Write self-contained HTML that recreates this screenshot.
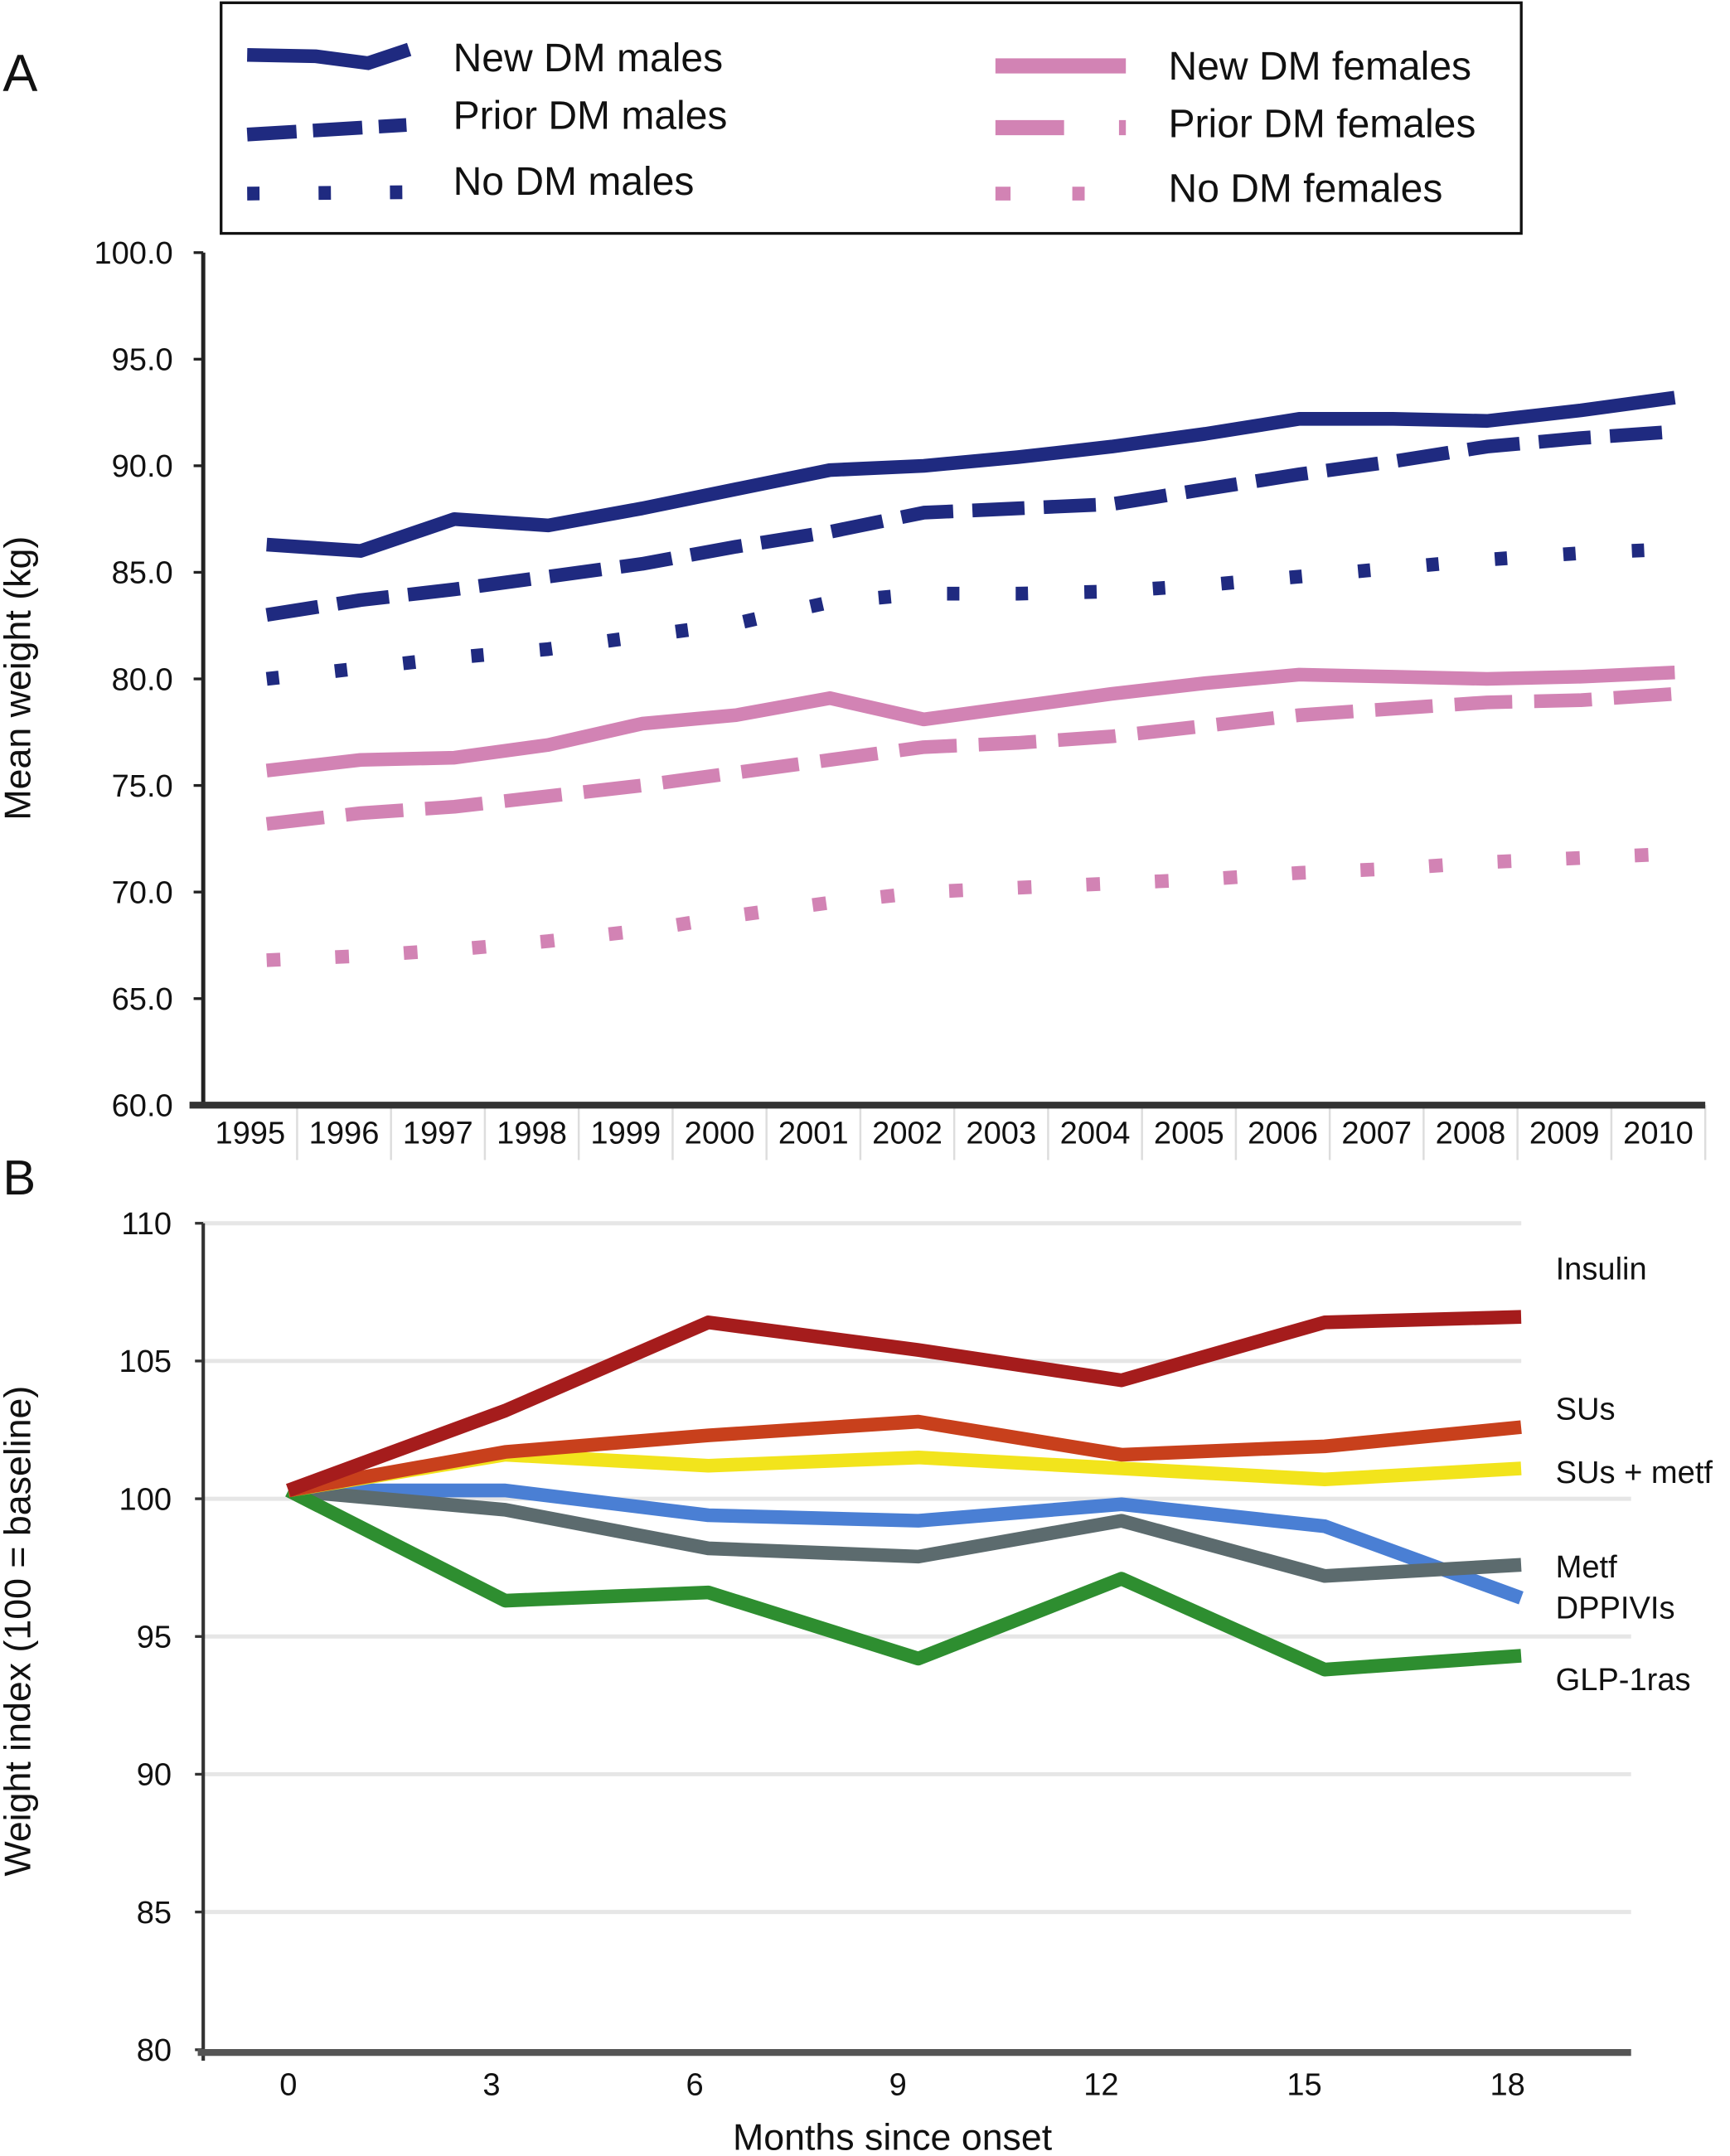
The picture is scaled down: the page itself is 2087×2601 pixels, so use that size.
<!DOCTYPE html>
<html><head><meta charset="utf-8">
<style>
html,body{margin:0;padding:0;background:#fff;}
svg{display:block;}
text{font-family:"Liberation Sans Narrow","Liberation Sans",sans-serif;fill:#111;}
.reg{font-family:"Liberation Sans",sans-serif;}
</style></head>
<body>
<svg id="fig" width="2087" height="2601" viewBox="0 0 1260 1570.4" xmlns="http://www.w3.org/2000/svg">
  <text x="2" y="66" font-size="38" class="reg">A</text>
  <text x="2" y="870" font-size="36" class="reg">B</text>
  <g id="legend">
    <rect x="161" y="2" width="947" height="168" fill="none" stroke="#111" stroke-width="2"/>
    <path d="M180 40 L230 41 L268 46 L298 36" fill="none" stroke="#1f2a80" stroke-width="10"/>
    <text x="330" y="52" font-size="29">New DM males</text>
    <path d="M180 98 L296 91" fill="none" stroke="#1f2a80" stroke-width="10" stroke-dasharray="36 12"/>
    <text x="330" y="94" font-size="29">Prior DM males</text>
    <path d="M180 141 L296 140" fill="none" stroke="#1f2a80" stroke-width="10" stroke-dasharray="9 43"/>
    <text x="330" y="142" font-size="29">No DM males</text>
    <path d="M725 48 L820 48" fill="none" stroke="#d283b4" stroke-width="11"/>
    <text x="851" y="58" font-size="29">New DM females</text>
    <path d="M725 93 L820 93" fill="none" stroke="#d283b4" stroke-width="11" stroke-dasharray="50 40 6 40"/>
    <text x="851" y="100" font-size="29">Prior DM females</text>
    <path d="M725 141 L790 141" fill="none" stroke="#d283b4" stroke-width="10" stroke-dasharray="11 45"/>
    <text x="851" y="147" font-size="29">No DM females</text>
  </g>
  <g id="chartA"></g>
  <g id="chartB"></g>
</svg>
<script>
const NS="http://www.w3.org/2000/svg";
// ---- Panel A data ----
const yearsA=["1995","1996","1997","1998","1999","2000","2001","2002","2003","2004","2005","2006","2007","2008","2009","2010"];
const ticksA=["60.0","65.0","70.0","75.0","80.0","85.0","90.0","95.0","100.0"];
const newDMmales=[86.3,86.0,87.5,87.2,88.0,88.9,89.8,90.0,90.4,90.9,91.5,92.2,92.2,92.1,92.6,93.2];
const priorDMmales=[83.0,83.7,84.2,84.8,85.4,86.2,86.9,87.8,88.0,88.2,88.9,89.6,90.2,90.9,91.3,91.6];
const noDMmales=[80.0,80.5,81.0,81.4,82.0,82.6,83.6,84.0,84.0,84.1,84.4,84.8,85.2,85.6,85.9,86.1];
const newDMfemales=[75.7,76.2,76.3,76.9,77.9,78.3,79.1,78.1,78.7,79.3,79.8,80.2,80.1,80.0,80.1,80.3];
const priorDMfemales=[73.2,73.7,74.0,74.5,75.0,75.6,76.2,76.8,77.0,77.3,77.8,78.3,78.6,78.9,79.0,79.3];
const noDMfemales=[66.8,67.0,67.3,67.7,68.2,68.9,69.5,70.0,70.2,70.4,70.6,70.9,71.1,71.4,71.6,71.8];
// ---- Panel B data ----
const monthsB=[0,3.2,6.2,9.3,12.3,15.3,18.2];
const tickMonthsB=[0,3,6,9,12,15,18];
const ticksB=[80,85,90,95,100,105,110];
const insulin=[100.3,103.2,106.4,105.4,104.3,106.4,106.6];
const sus=[100.3,101.7,102.3,102.8,101.6,101.9,102.6];
const susMetf=[100.3,101.6,101.2,101.5,101.1,100.7,101.1];
const dppivis=[100.3,100.3,99.4,99.2,99.8,99.0,96.4];
const metf=[100.3,99.6,98.2,97.9,99.2,97.2,97.6];
const glp1=[100.3,96.3,96.6,94.2,97.1,93.8,94.3];

function el(tag,attrs,parent,txt){const e=document.createElementNS(NS,tag);for(const k in attrs)e.setAttribute(k,attrs[k]);if(txt!==undefined)e.textContent=txt;parent.appendChild(e);return e;}

// Panel A
const gA=document.getElementById('chartA');
const xA0=148,xA1=1242,yA0=805,yA1=184;
const bandW=(xA1-xA0)/yearsA.length;
const xA=i=>xA0+bandW*(i+0.5)+12;
const yA=v=>yA0-(v-60)/40*(yA0-yA1);
ticksA.forEach(t=>{
  const y=yA(parseFloat(t));
  const tk=el('line',{x1:xA0-7,x2:xA0,y1:y,y2:y,stroke:'#222','stroke-width':2},gA);
  
  const lb=el('text',{x:126,y:y+8,'font-size':23,'text-anchor':'end'},gA,t);
  
});
yearsA.forEach((yr,i)=>{
  const bx=xA0+bandW*(i+1);
  const d=el('line',{x1:bx,x2:bx,y1:yA0,y2:yA0+40,stroke:'#ddd','stroke-width':1.5},gA);
  
  const lb=el('text',{x:xA0+bandW*(i+0.5),y:833,'font-size':23,'text-anchor':'middle'},gA,yr);
  
});
let ax=el('line',{x1:xA0,x2:xA0,y1:yA1,y2:yA0,stroke:'#222','stroke-width':3},gA);

ax=el('line',{x1:xA0-10,x2:xA1,y1:yA0,y2:yA0,stroke:'#333','stroke-width':5},gA);

const ta=el('text',{x:0,y:0,'font-size':27,'text-anchor':'middle',class:'reg',transform:'translate(22 494) rotate(-90)'},gA,'Mean weight (kg)');

const seriesA=[
  [newDMmales,'#1f2a80','','series-new-dm-males'],
  [priorDMmales,'#1f2a80','38 14','series-prior-dm-males'],
  [noDMmales,'#1f2a80','9 41','series-no-dm-males'],
  [newDMfemales,'#d283b4','','series-new-dm-females'],
  [priorDMfemales,'#d283b4','42 16','series-prior-dm-females'],
  [noDMfemales,'#d283b4','10 40','series-no-dm-females']];
seriesA.forEach(([vals,c,da,nm])=>{
  const pts=vals.map((v,i)=>xA(i).toFixed(1)+','+yA(v).toFixed(1)).join(' ');
  const a={points:pts,fill:'none',stroke:c,'stroke-width':10,'stroke-linejoin':'round'};
  if(da)a['stroke-dasharray']=da;
  const p=el('polyline',a,gA);
  
});

// Panel B
const gB=document.getElementById('chartB');
const xB0=148,yB0=1493,yB1=891;
const xB=m=>210+(m/18)*(1098-210);
const yB=v=>yB0-(v-80)/30*(yB0-yB1);
ticksB.forEach(t=>{
  const y=yB(t);
  if(t>80){const g=el('line',{x1:xB0,x2:t>=105?1108:1188,y1:y,y2:y,stroke:'#e6e6e6','stroke-width':3},gB);
    }
  const tk=el('line',{x1:xB0-6,x2:xB0,y1:y,y2:y,stroke:'#333','stroke-width':2},gB);
  
  const lb=el('text',{x:125,y:y+8,'font-size':23,'text-anchor':'end'},gB,String(t));
  
});
tickMonthsB.forEach(m=>{
  const lb=el('text',{x:xB(m),y:1526,'font-size':23,'text-anchor':'middle'},gB,String(m));
  
});
ax=el('line',{x1:xB0,x2:xB0,y1:yB1,y2:yB0+8,stroke:'#333','stroke-width':2.5},gB);

ax=el('line',{x1:xB0-4,x2:1188,y1:yB0+2,y2:yB0+2,stroke:'#555','stroke-width':5},gB);

const tb=el('text',{x:0,y:0,'font-size':27,'text-anchor':'middle',class:'reg',transform:'translate(22 1188) rotate(-90)'},gB,'Weight index (100 = baseline)');

const xt=el('text',{x:650,y:1566,'font-size':27,'text-anchor':'middle'},gB,'Months since onset');

const seriesB=[
  [dppivis,'#4a7fd4','series-dppivis'],
  [metf,'#5c6b6e','series-metf'],
  [glp1,'#2e8e30','series-glp1ras'],
  [susMetf,'#f2e41c','series-sus-metf'],
  [sus,'#c8401c','series-sus'],
  [insulin,'#a51c1c','series-insulin']];
seriesB.forEach(([vals,c,nm])=>{
  const pts=vals.map((v,i)=>xB(monthsB[i]).toFixed(1)+','+yB(v).toFixed(1)).join(' ');
  const p=el('polyline',{points:pts,fill:'none',stroke:c,'stroke-width':10,'stroke-linejoin':'round'},gB);
  
});
[['Insulin',932],['SUs',1034],['SUs + metf',1080],['Metf',1149],['DPPIVIs',1179],['GLP-1ras',1231]].forEach(([t,y])=>{
  const lb=el('text',{x:1133,y:y,'font-size':23},gB,t);
  
});
</script>
</body></html>
